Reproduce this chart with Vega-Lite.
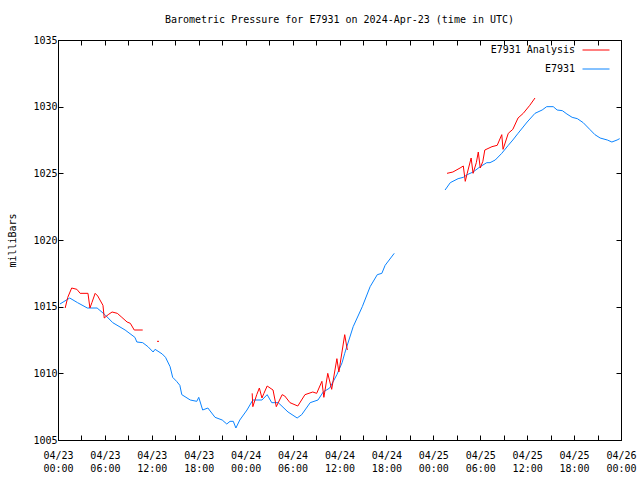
{
  "$schema": "https://vega.github.io/schema/vega-lite/v6.json",
  "width": 563,
  "height": 400,
  "autosize": {"type": "none"},
  "padding": {"left": 58, "top": 40, "right": 19, "bottom": 40},
  "background": "white",
  "config": {
    "font": "DejaVu Sans Mono",
    "view": {"stroke": "black", "strokeWidth": 1},
    "axis": {"labelFont": "DejaVu Sans Mono", "labelFontSize": 10, "labelColor": "black", "titleFont": "DejaVu Sans Mono", "titleFontSize": 10, "titleFontWeight": "normal", "titleColor": "black", "domainColor": "black", "tickColor": "black", "grid": false}
  },
  "title": {"text": "Barometric Pressure for E7931 on 2024-Apr-23 (time in UTC)", "font": "DejaVu Sans Mono", "fontSize": 10, "fontWeight": "normal", "color": "black", "offset": 10},
  "data": {"values": [
    {"t": "2024-04-23T00:15:00Z", "p": 1015.2, "series": "E7931", "seg": "b1"},
    {"t": "2024-04-23T01:30:00Z", "p": 1015.65, "series": "E7931", "seg": "b1"},
    {"t": "2024-04-23T02:30:00Z", "p": 1015.3, "series": "E7931", "seg": "b1"},
    {"t": "2024-04-23T03:45:00Z", "p": 1014.9, "series": "E7931", "seg": "b1"},
    {"t": "2024-04-23T05:00:00Z", "p": 1014.9, "series": "E7931", "seg": "b1"},
    {"t": "2024-04-23T06:00:00Z", "p": 1014.4, "series": "E7931", "seg": "b1"},
    {"t": "2024-04-23T07:00:00Z", "p": 1013.8, "series": "E7931", "seg": "b1"},
    {"t": "2024-04-23T08:35:00Z", "p": 1013.25, "series": "E7931", "seg": "b1"},
    {"t": "2024-04-23T09:50:00Z", "p": 1012.7, "series": "E7931", "seg": "b1"},
    {"t": "2024-04-23T10:05:00Z", "p": 1012.35, "series": "E7931", "seg": "b1"},
    {"t": "2024-04-23T10:50:00Z", "p": 1012.3, "series": "E7931", "seg": "b1"},
    {"t": "2024-04-23T11:30:00Z", "p": 1012.0, "series": "E7931", "seg": "b1"},
    {"t": "2024-04-23T12:10:00Z", "p": 1011.6, "series": "E7931", "seg": "b1"},
    {"t": "2024-04-23T12:25:00Z", "p": 1011.8, "series": "E7931", "seg": "b1"},
    {"t": "2024-04-23T13:20:00Z", "p": 1011.45, "series": "E7931", "seg": "b1"},
    {"t": "2024-04-23T13:45:00Z", "p": 1011.2, "series": "E7931", "seg": "b1"},
    {"t": "2024-04-23T14:20:00Z", "p": 1010.5, "series": "E7931", "seg": "b1"},
    {"t": "2024-04-23T14:40:00Z", "p": 1009.7, "series": "E7931", "seg": "b1"},
    {"t": "2024-04-23T15:10:00Z", "p": 1009.4, "series": "E7931", "seg": "b1"},
    {"t": "2024-04-23T15:35:00Z", "p": 1009.1, "series": "E7931", "seg": "b1"},
    {"t": "2024-04-23T15:50:00Z", "p": 1008.4, "series": "E7931", "seg": "b1"},
    {"t": "2024-04-23T16:55:00Z", "p": 1008.0, "series": "E7931", "seg": "b1"},
    {"t": "2024-04-23T17:45:00Z", "p": 1007.9, "series": "E7931", "seg": "b1"},
    {"t": "2024-04-23T18:00:00Z", "p": 1008.2, "series": "E7931", "seg": "b1"},
    {"t": "2024-04-23T18:30:00Z", "p": 1007.25, "series": "E7931", "seg": "b1"},
    {"t": "2024-04-23T19:10:00Z", "p": 1007.4, "series": "E7931", "seg": "b1"},
    {"t": "2024-04-23T20:05:00Z", "p": 1006.7, "series": "E7931", "seg": "b1"},
    {"t": "2024-04-23T21:00:00Z", "p": 1006.5, "series": "E7931", "seg": "b1"},
    {"t": "2024-04-23T21:35:00Z", "p": 1006.2, "series": "E7931", "seg": "b1"},
    {"t": "2024-04-23T22:00:00Z", "p": 1006.4, "series": "E7931", "seg": "b1"},
    {"t": "2024-04-23T22:25:00Z", "p": 1006.4, "series": "E7931", "seg": "b1"},
    {"t": "2024-04-23T22:45:00Z", "p": 1005.9, "series": "E7931", "seg": "b1"},
    {"t": "2024-04-23T23:15:00Z", "p": 1006.5, "series": "E7931", "seg": "b1"},
    {"t": "2024-04-24T00:10:00Z", "p": 1007.25, "series": "E7931", "seg": "b1"},
    {"t": "2024-04-24T00:55:00Z", "p": 1008.0, "series": "E7931", "seg": "b1"},
    {"t": "2024-04-24T02:05:00Z", "p": 1008.0, "series": "E7931", "seg": "b1"},
    {"t": "2024-04-24T02:45:00Z", "p": 1008.4, "series": "E7931", "seg": "b1"},
    {"t": "2024-04-24T03:20:00Z", "p": 1007.8, "series": "E7931", "seg": "b1"},
    {"t": "2024-04-24T04:10:00Z", "p": 1007.8, "series": "E7931", "seg": "b1"},
    {"t": "2024-04-24T05:25:00Z", "p": 1007.1, "series": "E7931", "seg": "b1"},
    {"t": "2024-04-24T06:35:00Z", "p": 1006.65, "series": "E7931", "seg": "b1"},
    {"t": "2024-04-24T07:10:00Z", "p": 1006.9, "series": "E7931", "seg": "b1"},
    {"t": "2024-04-24T08:15:00Z", "p": 1007.8, "series": "E7931", "seg": "b1"},
    {"t": "2024-04-24T09:15:00Z", "p": 1008.0, "series": "E7931", "seg": "b1"},
    {"t": "2024-04-24T09:55:00Z", "p": 1008.6, "series": "E7931", "seg": "b1"},
    {"t": "2024-04-24T10:45:00Z", "p": 1008.9, "series": "E7931", "seg": "b1"},
    {"t": "2024-04-24T11:40:00Z", "p": 1009.9, "series": "E7931", "seg": "b1"},
    {"t": "2024-04-24T12:20:00Z", "p": 1010.8, "series": "E7931", "seg": "b1"},
    {"t": "2024-04-24T12:40:00Z", "p": 1011.5, "series": "E7931", "seg": "b1"},
    {"t": "2024-04-24T13:45:00Z", "p": 1013.5, "series": "E7931", "seg": "b1"},
    {"t": "2024-04-24T14:55:00Z", "p": 1015.0, "series": "E7931", "seg": "b1"},
    {"t": "2024-04-24T15:55:00Z", "p": 1016.5, "series": "E7931", "seg": "b1"},
    {"t": "2024-04-24T16:50:00Z", "p": 1017.4, "series": "E7931", "seg": "b1"},
    {"t": "2024-04-24T17:25:00Z", "p": 1017.5, "series": "E7931", "seg": "b1"},
    {"t": "2024-04-24T17:50:00Z", "p": 1018.1, "series": "E7931", "seg": "b1"},
    {"t": "2024-04-24T19:00:00Z", "p": 1019.0, "series": "E7931", "seg": "b1"},
    {"t": "2024-04-25T01:30:00Z", "p": 1023.75, "series": "E7931", "seg": "b2"},
    {"t": "2024-04-25T02:10:00Z", "p": 1024.3, "series": "E7931", "seg": "b2"},
    {"t": "2024-04-25T03:10:00Z", "p": 1024.6, "series": "E7931", "seg": "b2"},
    {"t": "2024-04-25T03:50:00Z", "p": 1024.7, "series": "E7931", "seg": "b2"},
    {"t": "2024-04-25T04:20:00Z", "p": 1024.9, "series": "E7931", "seg": "b2"},
    {"t": "2024-04-25T05:05:00Z", "p": 1025.1, "series": "E7931", "seg": "b2"},
    {"t": "2024-04-25T06:00:00Z", "p": 1025.5, "series": "E7931", "seg": "b2"},
    {"t": "2024-04-25T06:50:00Z", "p": 1025.8, "series": "E7931", "seg": "b2"},
    {"t": "2024-04-25T07:15:00Z", "p": 1025.8, "series": "E7931", "seg": "b2"},
    {"t": "2024-04-25T07:55:00Z", "p": 1026.0, "series": "E7931", "seg": "b2"},
    {"t": "2024-04-25T08:45:00Z", "p": 1026.5, "series": "E7931", "seg": "b2"},
    {"t": "2024-04-25T09:35:00Z", "p": 1027.1, "series": "E7931", "seg": "b2"},
    {"t": "2024-04-25T10:10:00Z", "p": 1027.5, "series": "E7931", "seg": "b2"},
    {"t": "2024-04-25T10:50:00Z", "p": 1028.0, "series": "E7931", "seg": "b2"},
    {"t": "2024-04-25T12:00:00Z", "p": 1028.85, "series": "E7931", "seg": "b2"},
    {"t": "2024-04-25T13:00:00Z", "p": 1029.5, "series": "E7931", "seg": "b2"},
    {"t": "2024-04-25T13:55:00Z", "p": 1029.75, "series": "E7931", "seg": "b2"},
    {"t": "2024-04-25T14:30:00Z", "p": 1030.0, "series": "E7931", "seg": "b2"},
    {"t": "2024-04-25T15:20:00Z", "p": 1030.0, "series": "E7931", "seg": "b2"},
    {"t": "2024-04-25T15:50:00Z", "p": 1029.75, "series": "E7931", "seg": "b2"},
    {"t": "2024-04-25T16:30:00Z", "p": 1029.7, "series": "E7931", "seg": "b2"},
    {"t": "2024-04-25T17:05:00Z", "p": 1029.45, "series": "E7931", "seg": "b2"},
    {"t": "2024-04-25T17:45:00Z", "p": 1029.2, "series": "E7931", "seg": "b2"},
    {"t": "2024-04-25T18:25:00Z", "p": 1029.1, "series": "E7931", "seg": "b2"},
    {"t": "2024-04-25T19:10:00Z", "p": 1028.8, "series": "E7931", "seg": "b2"},
    {"t": "2024-04-25T20:00:00Z", "p": 1028.3, "series": "E7931", "seg": "b2"},
    {"t": "2024-04-25T20:40:00Z", "p": 1027.9, "series": "E7931", "seg": "b2"},
    {"t": "2024-04-25T21:20:00Z", "p": 1027.65, "series": "E7931", "seg": "b2"},
    {"t": "2024-04-25T22:15:00Z", "p": 1027.5, "series": "E7931", "seg": "b2"},
    {"t": "2024-04-25T22:50:00Z", "p": 1027.35, "series": "E7931", "seg": "b2"},
    {"t": "2024-04-25T23:30:00Z", "p": 1027.5, "series": "E7931", "seg": "b2"},
    {"t": "2024-04-25T23:50:00Z", "p": 1027.6, "series": "E7931", "seg": "b2"},
    {"t": "2024-04-23T00:55:00Z", "p": 1014.9, "series": "E7931 Analysis", "seg": "r1"},
    {"t": "2024-04-23T01:15:00Z", "p": 1015.7, "series": "E7931 Analysis", "seg": "r1"},
    {"t": "2024-04-23T01:45:00Z", "p": 1016.4, "series": "E7931 Analysis", "seg": "r1"},
    {"t": "2024-04-23T02:25:00Z", "p": 1016.3, "series": "E7931 Analysis", "seg": "r1"},
    {"t": "2024-04-23T02:50:00Z", "p": 1016.0, "series": "E7931 Analysis", "seg": "r1"},
    {"t": "2024-04-23T03:50:00Z", "p": 1016.0, "series": "E7931 Analysis", "seg": "r1"},
    {"t": "2024-04-23T04:05:00Z", "p": 1014.9, "series": "E7931 Analysis", "seg": "r1"},
    {"t": "2024-04-23T04:20:00Z", "p": 1015.3, "series": "E7931 Analysis", "seg": "r1"},
    {"t": "2024-04-23T04:45:00Z", "p": 1016.0, "series": "E7931 Analysis", "seg": "r1"},
    {"t": "2024-04-23T05:05:00Z", "p": 1015.8, "series": "E7931 Analysis", "seg": "r1"},
    {"t": "2024-04-23T05:45:00Z", "p": 1015.1, "series": "E7931 Analysis", "seg": "r1"},
    {"t": "2024-04-23T05:55:00Z", "p": 1014.15, "series": "E7931 Analysis", "seg": "r1"},
    {"t": "2024-04-23T06:25:00Z", "p": 1014.4, "series": "E7931 Analysis", "seg": "r1"},
    {"t": "2024-04-23T06:55:00Z", "p": 1014.6, "series": "E7931 Analysis", "seg": "r1"},
    {"t": "2024-04-23T07:35:00Z", "p": 1014.5, "series": "E7931 Analysis", "seg": "r1"},
    {"t": "2024-04-23T08:10:00Z", "p": 1014.2, "series": "E7931 Analysis", "seg": "r1"},
    {"t": "2024-04-23T08:50:00Z", "p": 1013.85, "series": "E7931 Analysis", "seg": "r1"},
    {"t": "2024-04-23T09:15:00Z", "p": 1013.75, "series": "E7931 Analysis", "seg": "r1"},
    {"t": "2024-04-23T09:45:00Z", "p": 1013.25, "series": "E7931 Analysis", "seg": "r1"},
    {"t": "2024-04-23T10:50:00Z", "p": 1013.25, "series": "E7931 Analysis", "seg": "r1"},
    {"t": "2024-04-23T12:40:00Z", "p": 1012.4, "series": "E7931 Analysis", "seg": "r2"},
    {"t": "2024-04-23T12:55:00Z", "p": 1012.4, "series": "E7931 Analysis", "seg": "r2"},
    {"t": "2024-04-24T00:50:00Z", "p": 1008.5, "series": "E7931 Analysis", "seg": "r3"},
    {"t": "2024-04-24T00:55:00Z", "p": 1007.5, "series": "E7931 Analysis", "seg": "r3"},
    {"t": "2024-04-24T01:25:00Z", "p": 1008.4, "series": "E7931 Analysis", "seg": "r3"},
    {"t": "2024-04-24T01:45:00Z", "p": 1008.9, "series": "E7931 Analysis", "seg": "r3"},
    {"t": "2024-04-24T02:05:00Z", "p": 1008.15, "series": "E7931 Analysis", "seg": "r3"},
    {"t": "2024-04-24T02:20:00Z", "p": 1008.5, "series": "E7931 Analysis", "seg": "r3"},
    {"t": "2024-04-24T02:45:00Z", "p": 1009.05, "series": "E7931 Analysis", "seg": "r3"},
    {"t": "2024-04-24T03:30:00Z", "p": 1008.75, "series": "E7931 Analysis", "seg": "r3"},
    {"t": "2024-04-24T03:55:00Z", "p": 1007.5, "series": "E7931 Analysis", "seg": "r3"},
    {"t": "2024-04-24T04:40:00Z", "p": 1008.4, "series": "E7931 Analysis", "seg": "r3"},
    {"t": "2024-04-24T05:00:00Z", "p": 1008.3, "series": "E7931 Analysis", "seg": "r3"},
    {"t": "2024-04-24T05:40:00Z", "p": 1007.8, "series": "E7931 Analysis", "seg": "r3"},
    {"t": "2024-04-24T06:40:00Z", "p": 1007.55, "series": "E7931 Analysis", "seg": "r3"},
    {"t": "2024-04-24T07:35:00Z", "p": 1008.4, "series": "E7931 Analysis", "seg": "r3"},
    {"t": "2024-04-24T08:35:00Z", "p": 1008.6, "series": "E7931 Analysis", "seg": "r3"},
    {"t": "2024-04-24T09:05:00Z", "p": 1008.5, "series": "E7931 Analysis", "seg": "r3"},
    {"t": "2024-04-24T09:45:00Z", "p": 1009.4, "series": "E7931 Analysis", "seg": "r3"},
    {"t": "2024-04-24T10:00:00Z", "p": 1008.2, "series": "E7931 Analysis", "seg": "r3"},
    {"t": "2024-04-24T10:30:00Z", "p": 1010.0, "series": "E7931 Analysis", "seg": "r3"},
    {"t": "2024-04-24T11:00:00Z", "p": 1008.8, "series": "E7931 Analysis", "seg": "r3"},
    {"t": "2024-04-24T11:40:00Z", "p": 1011.1, "series": "E7931 Analysis", "seg": "r3"},
    {"t": "2024-04-24T11:55:00Z", "p": 1010.1, "series": "E7931 Analysis", "seg": "r3"},
    {"t": "2024-04-24T12:40:00Z", "p": 1012.9, "series": "E7931 Analysis", "seg": "r3"},
    {"t": "2024-04-24T13:00:00Z", "p": 1011.75, "series": "E7931 Analysis", "seg": "r3"},
    {"t": "2024-04-25T01:45:00Z", "p": 1025.0, "series": "E7931 Analysis", "seg": "r4"},
    {"t": "2024-04-25T02:30:00Z", "p": 1025.1, "series": "E7931 Analysis", "seg": "r4"},
    {"t": "2024-04-25T03:25:00Z", "p": 1025.4, "series": "E7931 Analysis", "seg": "r4"},
    {"t": "2024-04-25T03:50:00Z", "p": 1025.55, "series": "E7931 Analysis", "seg": "r4"},
    {"t": "2024-04-25T04:05:00Z", "p": 1024.4, "series": "E7931 Analysis", "seg": "r4"},
    {"t": "2024-04-25T04:20:00Z", "p": 1025.0, "series": "E7931 Analysis", "seg": "r4"},
    {"t": "2024-04-25T04:50:00Z", "p": 1026.15, "series": "E7931 Analysis", "seg": "r4"},
    {"t": "2024-04-25T05:05:00Z", "p": 1025.0, "series": "E7931 Analysis", "seg": "r4"},
    {"t": "2024-04-25T05:30:00Z", "p": 1025.8, "series": "E7931 Analysis", "seg": "r4"},
    {"t": "2024-04-25T05:45:00Z", "p": 1026.6, "series": "E7931 Analysis", "seg": "r4"},
    {"t": "2024-04-25T06:00:00Z", "p": 1025.4, "series": "E7931 Analysis", "seg": "r4"},
    {"t": "2024-04-25T06:20:00Z", "p": 1025.9, "series": "E7931 Analysis", "seg": "r4"},
    {"t": "2024-04-25T06:35:00Z", "p": 1026.75, "series": "E7931 Analysis", "seg": "r4"},
    {"t": "2024-04-25T07:30:00Z", "p": 1027.0, "series": "E7931 Analysis", "seg": "r4"},
    {"t": "2024-04-25T08:10:00Z", "p": 1027.1, "series": "E7931 Analysis", "seg": "r4"},
    {"t": "2024-04-25T08:45:00Z", "p": 1027.9, "series": "E7931 Analysis", "seg": "r4"},
    {"t": "2024-04-25T08:55:00Z", "p": 1026.8, "series": "E7931 Analysis", "seg": "r4"},
    {"t": "2024-04-25T09:35:00Z", "p": 1028.0, "series": "E7931 Analysis", "seg": "r4"},
    {"t": "2024-04-25T10:10:00Z", "p": 1028.3, "series": "E7931 Analysis", "seg": "r4"},
    {"t": "2024-04-25T10:50:00Z", "p": 1029.15, "series": "E7931 Analysis", "seg": "r4"},
    {"t": "2024-04-25T11:30:00Z", "p": 1029.5, "series": "E7931 Analysis", "seg": "r4"},
    {"t": "2024-04-25T12:20:00Z", "p": 1030.1, "series": "E7931 Analysis", "seg": "r4"},
    {"t": "2024-04-25T13:00:00Z", "p": 1030.65, "series": "E7931 Analysis", "seg": "r4"}
  ]},
  "layer": [
    {
      "mark": {"type": "line", "strokeWidth": 1, "clip": true},
      "encoding": {
        "x": {"field": "t", "type": "temporal",
          "scale": {"type": "utc", "nice": false, "domain": [{"year": 2024, "month": 4, "date": 23, "utc": true}, {"year": 2024, "month": 4, "date": 26, "utc": true}]},
          "axis": {"orient": "bottom", "title": null, "tickSize": -5, "labelPadding": 15, "labelOverlap": false, "labelFlush": false, "labelBaseline": "top", "labelLineHeight": 13,
            "values": [
              {"year": 2024, "month": 4, "date": 23, "hours": 0, "utc": true},
              {"year": 2024, "month": 4, "date": 23, "hours": 3, "utc": true},
              {"year": 2024, "month": 4, "date": 23, "hours": 6, "utc": true},
              {"year": 2024, "month": 4, "date": 23, "hours": 9, "utc": true},
              {"year": 2024, "month": 4, "date": 23, "hours": 12, "utc": true},
              {"year": 2024, "month": 4, "date": 23, "hours": 15, "utc": true},
              {"year": 2024, "month": 4, "date": 23, "hours": 18, "utc": true},
              {"year": 2024, "month": 4, "date": 23, "hours": 21, "utc": true},
              {"year": 2024, "month": 4, "date": 24, "hours": 0, "utc": true},
              {"year": 2024, "month": 4, "date": 24, "hours": 3, "utc": true},
              {"year": 2024, "month": 4, "date": 24, "hours": 6, "utc": true},
              {"year": 2024, "month": 4, "date": 24, "hours": 9, "utc": true},
              {"year": 2024, "month": 4, "date": 24, "hours": 12, "utc": true},
              {"year": 2024, "month": 4, "date": 24, "hours": 15, "utc": true},
              {"year": 2024, "month": 4, "date": 24, "hours": 18, "utc": true},
              {"year": 2024, "month": 4, "date": 24, "hours": 21, "utc": true},
              {"year": 2024, "month": 4, "date": 25, "hours": 0, "utc": true},
              {"year": 2024, "month": 4, "date": 25, "hours": 3, "utc": true},
              {"year": 2024, "month": 4, "date": 25, "hours": 6, "utc": true},
              {"year": 2024, "month": 4, "date": 25, "hours": 9, "utc": true},
              {"year": 2024, "month": 4, "date": 25, "hours": 12, "utc": true},
              {"year": 2024, "month": 4, "date": 25, "hours": 15, "utc": true},
              {"year": 2024, "month": 4, "date": 25, "hours": 18, "utc": true},
              {"year": 2024, "month": 4, "date": 25, "hours": 21, "utc": true},
              {"year": 2024, "month": 4, "date": 26, "hours": 0, "utc": true}
            ],
            "labelExpr": "utchours(datum.value) % 6 == 0 ? [utcFormat(datum.value, '%m/%d'), utcFormat(datum.value, '%H:%M')] : ''"}},
        "y": {"field": "p", "type": "quantitative",
          "scale": {"domain": [1005, 1035], "nice": false, "zero": false},
          "axis": {"orient": "left", "title": "milliBars", "format": "d", "values": [1005, 1010, 1015, 1020, 1025, 1030, 1035], "tickSize": -5, "labelPadding": 6, "titlePadding": 15}},
        "color": {"field": "series", "type": "nominal",
          "scale": {"domain": ["E7931 Analysis", "E7931"], "range": ["#ff0000", "#0a84ff"]},
          "legend": {"title": null, "orient": "none", "legendX": 524, "legendY": -4, "padding": 0, "symbolType": "stroke", "symbolSize": 729, "symbolStrokeWidth": 1, "labelFont": "DejaVu Sans Mono", "labelFontSize": 10, "labelColor": "black", "labelAlign": "right", "labelOffset": -35, "rowPadding": -22}},
        "detail": {"field": "seg", "type": "nominal"}
      }
    },
    {
      "mark": {"type": "line", "strokeOpacity": 0},
      "encoding": {
        "x": {"field": "t", "type": "temporal",
          "axis": {"orient": "top", "title": null, "labels": false, "tickSize": -5,
            "values": [
              {"year": 2024, "month": 4, "date": 23, "hours": 0, "utc": true},
              {"year": 2024, "month": 4, "date": 23, "hours": 3, "utc": true},
              {"year": 2024, "month": 4, "date": 23, "hours": 6, "utc": true},
              {"year": 2024, "month": 4, "date": 23, "hours": 9, "utc": true},
              {"year": 2024, "month": 4, "date": 23, "hours": 12, "utc": true},
              {"year": 2024, "month": 4, "date": 23, "hours": 15, "utc": true},
              {"year": 2024, "month": 4, "date": 23, "hours": 18, "utc": true},
              {"year": 2024, "month": 4, "date": 23, "hours": 21, "utc": true},
              {"year": 2024, "month": 4, "date": 24, "hours": 0, "utc": true},
              {"year": 2024, "month": 4, "date": 24, "hours": 3, "utc": true},
              {"year": 2024, "month": 4, "date": 24, "hours": 6, "utc": true},
              {"year": 2024, "month": 4, "date": 24, "hours": 9, "utc": true},
              {"year": 2024, "month": 4, "date": 24, "hours": 12, "utc": true},
              {"year": 2024, "month": 4, "date": 24, "hours": 15, "utc": true},
              {"year": 2024, "month": 4, "date": 24, "hours": 18, "utc": true},
              {"year": 2024, "month": 4, "date": 24, "hours": 21, "utc": true},
              {"year": 2024, "month": 4, "date": 25, "hours": 0, "utc": true},
              {"year": 2024, "month": 4, "date": 25, "hours": 3, "utc": true},
              {"year": 2024, "month": 4, "date": 25, "hours": 6, "utc": true},
              {"year": 2024, "month": 4, "date": 25, "hours": 9, "utc": true},
              {"year": 2024, "month": 4, "date": 25, "hours": 12, "utc": true},
              {"year": 2024, "month": 4, "date": 25, "hours": 15, "utc": true},
              {"year": 2024, "month": 4, "date": 25, "hours": 18, "utc": true},
              {"year": 2024, "month": 4, "date": 25, "hours": 21, "utc": true},
              {"year": 2024, "month": 4, "date": 26, "hours": 0, "utc": true}
            ]}},
        "y": {"field": "p", "type": "quantitative",
          "axis": {"orient": "right", "title": null, "labels": false, "values": [1005, 1010, 1015, 1020, 1025, 1030, 1035], "tickSize": -5}},
        "detail": {"field": "seg", "type": "nominal"}
      }
    }
  ],
  "resolve": {"axis": {"x": "independent", "y": "independent"}}
}
